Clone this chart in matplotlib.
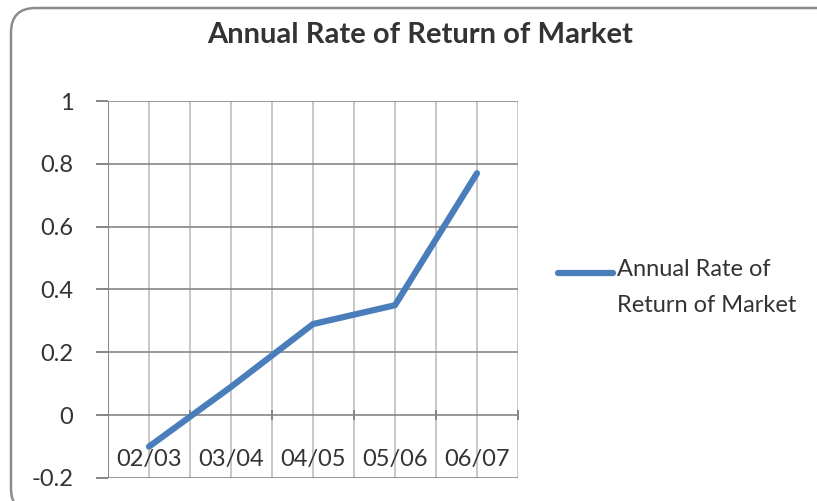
import matplotlib.pyplot as plt
from matplotlib.patches import FancyBboxPatch
from matplotlib.lines import Line2D

plt.rcParams['font.family'] = ['Lato', 'DejaVu Sans']

years = ['02/03', '03/04', '04/05', '05/06', '06/07']
returns = [-0.10, 0.09, 0.29, 0.35, 0.77]
series_name = 'Annual Rate of\nReturn of Market'

blue = '#4A7EBB'
dark_grid = '#868686'
light_grid = '#BFBFBF'
txt = '#333333'

fig = plt.figure(figsize=(8.17, 5.01), dpi=100)
W, H = 817, 501

# rounded chart border
border = FancyBboxPatch((11 / W, -12 / H), 840 / W, (493 + 12) / H,
                        boxstyle='round,pad=0,rounding_size=0.03',
                        transform=fig.transFigure, fill=False,
                        edgecolor='#8C8C8C', linewidth=1.8,
                        mutation_aspect=W / H)
fig.add_artist(border)

ax = fig.add_axes([108 / W, 1 - 478 / H, 410 / W, 377 / H])
xs = list(range(len(years)))
ax.set_xlim(-0.5, len(years) - 0.5)
ax.set_ylim(-0.2, 1.0)

# gridlines
for i in range(2 * len(years) + 1):
    ax.axvline(-0.5 + 0.5 * i, color=light_grid, lw=1.2, zorder=1)
for v in [-0.2, 0, 0.2, 0.4, 0.6, 0.8, 1.0]:
    ax.axhline(v, color=dark_grid, lw=1.2, zorder=1)
ax.axvline(-0.5, color=dark_grid, lw=1.4, zorder=2)

# category tick marks on the zero axis
for i in range(1, len(years) + 1):
    ax.plot([-0.5 + i, -0.5 + i], [-0.012, 0.012], color=dark_grid, lw=1.4,
            zorder=2, clip_on=False)

line, = ax.plot(xs, returns, color=blue, lw=4.5, solid_capstyle='round',
                zorder=3)

for x, lab in zip(xs, years):
    ax.text(x, -0.14, lab, ha='center', va='center', fontsize=17, color=txt)

for s in ax.spines.values():
    s.set_visible(False)
ax.set_xticks([])
ax.set_yticks([-0.2, 0, 0.2, 0.4, 0.6, 0.8, 1.0])
ax.set_yticklabels(['-0.2', '0', '0.2', '0.4', '0.6', '0.8', '1'])
ax.tick_params(axis='y', length=9, width=1.4, color=dark_grid, pad=16,
               labelsize=17, labelcolor=txt)

fig.text(420 / W, 1 - 35 / H, 'Annual Rate of Return of Market',
         ha='center', va='center', fontsize=21, fontweight='bold', color=txt)

# legend
fig.add_artist(Line2D([558 / W, 613 / W], [1 - 273 / H, 1 - 273 / H],
                      transform=fig.transFigure, color=line.get_color(),
                      lw=line.get_linewidth(), solid_capstyle='round'))
fig.text(617 / W, 1 - 259 / H, series_name, ha='left', va='top',
         fontsize=17, color=txt, linespacing=1.9)

fig.savefig('out.png', dpi=100)
